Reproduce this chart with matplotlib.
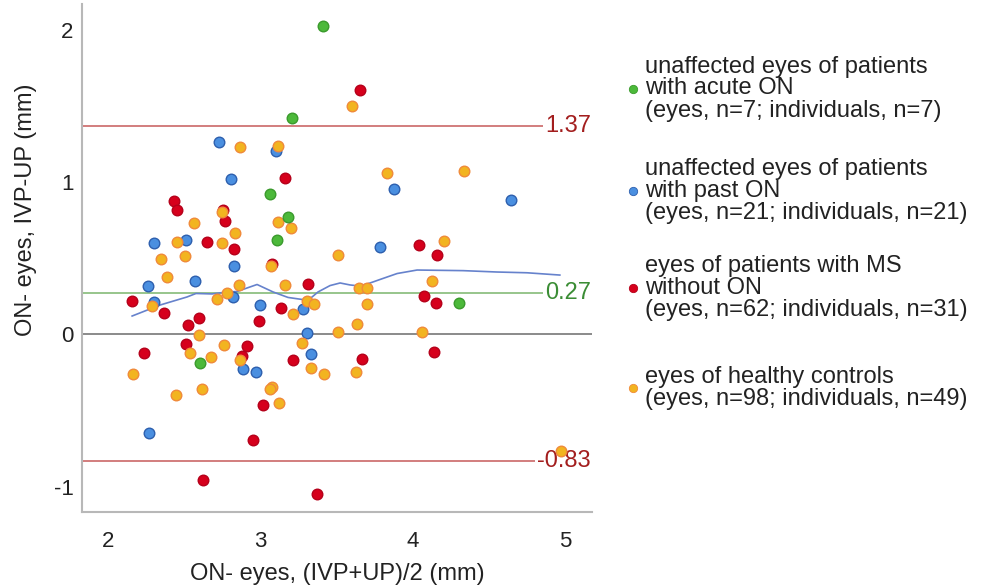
import matplotlib
matplotlib.use("Agg")
import matplotlib.pyplot as plt
from matplotlib.lines import Line2D

plt.rcParams['font.family'] = ['Liberation Sans', 'DejaVu Sans']

# Mean of the two measurements (x) and their difference (y), per group
acute_x = [3.407, 3.207, 3.058, 3.182, 3.108, 4.299, 2.600]
acute_y = [2.022, 1.422, 0.921, 0.770, 0.617, 0.204, -0.190]

past_x = [2.726, 3.098, 2.805, 3.875, 4.640, 2.297, 2.507, 3.785, 2.822, 2.257,
          2.571, 2.301, 2.818, 2.992, 3.278, 3.304, 3.333, 2.884, 2.971, 2.269]
past_y = [1.261, 1.202, 1.022, 0.952, 0.882, 0.601, 0.622, 0.571, 0.450, 0.320,
          0.351, 0.214, 0.242, 0.191, 0.163, 0.009, -0.128, -0.230, -0.249, -0.650]

ms_x = [3.650, 3.159, 2.433, 2.453, 2.751, 2.768, 2.649, 2.826, 4.041, 4.159,
        3.076, 3.312, 2.156, 2.364, 3.131, 4.073, 4.152, 2.595, 2.523, 2.989,
        2.236, 2.511, 2.907, 2.879, 3.212, 3.667, 4.139, 3.013, 2.948, 2.619, 3.371]
ms_y = [1.602, 1.026, 0.875, 0.815, 0.814, 0.741, 0.606, 0.561, 0.585, 0.522,
        0.464, 0.330, 0.221, 0.141, 0.171, 0.251, 0.207, 0.104, 0.058, 0.086,
        -0.120, -0.067, -0.078, -0.142, -0.170, -0.159, -0.118, -0.466, -0.696, -0.957, -1.051]

hc_x = [3.597, 2.862, 3.114, 3.829, 4.334, 2.746, 2.560, 3.115, 3.196, 2.828,
        2.448, 2.744, 4.204, 2.343, 2.503, 3.504, 3.069, 2.383, 2.858, 3.156,
        4.126, 3.647, 3.699, 2.780, 2.711, 2.289, 3.212, 3.302, 3.348, 3.696,
        3.630, 2.593, 3.504, 4.056, 3.270, 2.760, 2.534, 2.671, 2.867, 3.333,
        3.417, 3.622, 2.164, 2.446, 2.617, 3.074, 3.063, 3.122, 4.968]
hc_y = [1.501, 1.233, 1.236, 1.061, 1.070, 0.801, 0.732, 0.736, 0.701, 0.667,
        0.606, 0.598, 0.613, 0.494, 0.516, 0.521, 0.446, 0.375, 0.322, 0.322,
        0.353, 0.304, 0.304, 0.273, 0.230, 0.186, 0.130, 0.219, 0.202, 0.202,
        0.068, -0.006, 0.015, 0.017, -0.055, -0.069, -0.125, -0.148, -0.169, -0.223,
        -0.259, -0.249, -0.261, -0.400, -0.359, -0.346, -0.362, -0.450, -0.764]

# Smoothed fit through all points
fit_x = [2.156, 2.339, 2.516, 2.575, 2.680, 2.779, 2.844, 2.976, 3.081, 3.179,
         3.297, 3.337, 3.376, 3.455, 3.521, 3.586, 3.652, 3.718, 3.783, 3.895,
         4.026, 4.328, 4.550, 4.747, 4.963]
fit_y = [0.120, 0.192, 0.245, 0.268, 0.265, 0.278, 0.281, 0.327, 0.278, 0.242,
         0.225, 0.245, 0.278, 0.320, 0.337, 0.324, 0.317, 0.337, 0.360, 0.399,
         0.422, 0.418, 0.409, 0.404, 0.389]

# Mean difference and limits of agreement
mean_diff = 0.27
loa_upper = 1.37
loa_lower = -0.83

x_ticks = [2, 3, 4, 5]
y_ticks = [-1, 0, 1, 2]

legend_labels = [
    "unaffected eyes of patients\nwith acute ON\n(eyes, n=7; individuals, n=7)",
    "unaffected eyes of patients\nwith past ON\n(eyes, n=21; individuals, n=21)",
    "eyes of patients with MS\nwithout ON\n(eyes, n=62; individuals, n=31)",
    "eyes of healthy controls\n(eyes, n=98; individuals, n=49)",
]

col_green, edge_green = '#4cb93a', '#3a9a2c'
col_blue, edge_blue = '#4a8fe0', '#2d5fae'
col_red, edge_red = '#d6001c', '#b5001a'
col_orange, edge_orange = '#f2b420', '#f08a3a'

fig = plt.figure(figsize=(9.81, 5.88), dpi=100)
ax = fig.add_axes([82/981, 76/588, 510/981, 508/588])

xmin, xmax = 1.827, 5.174
ax.set_xlim(xmin, xmax)
ax.set_ylim(-1.167, 2.169)

# reference lines
ax.axhline(0, color='#8a8a8a', lw=1.4, zorder=1)
ax.axhline(loa_upper, color='#c65a5a', lw=1.1, zorder=1)
ax.axhline(loa_lower, color='#c65a5a', lw=1.1, zorder=1)
ax.axhline(mean_diff, color='#7ab56c', lw=1.1, zorder=1)

lab_x = 5.167
bb = dict(facecolor='white', edgecolor='none', pad=1.5)
ax.text(lab_x, loa_upper, f"{loa_upper:.2f}", color='#a31e1e', fontsize=17,
        ha='right', va='center', bbox=bb, zorder=3)
ax.text(lab_x, mean_diff, f"{mean_diff:.2f}", color='#3b8d35', fontsize=17,
        ha='right', va='center', bbox=bb, zorder=3)
ax.text(lab_x, loa_lower, f"{loa_lower:.2f}", color='#a31e1e', fontsize=17,
        ha='right', va='center', bbox=bb, zorder=3)

ax.plot(fit_x, fit_y, color='#6682cc', lw=1.2, zorder=2)

ms = 58
ax.scatter(past_x, past_y, s=ms, c=col_blue, edgecolors=edge_blue, linewidths=1.0, zorder=4)
ax.scatter(ms_x, ms_y, s=ms, c=col_red, edgecolors=edge_red, linewidths=1.0, zorder=5)
ax.scatter(hc_x, hc_y, s=ms, c=col_orange, edgecolors=edge_orange, linewidths=1.0, zorder=6)
ax.scatter(acute_x, acute_y, s=ms, c=col_green, edgecolors=edge_green, linewidths=1.0, zorder=7)

for s in ['top', 'right']:
    ax.spines[s].set_visible(False)
for s in ['left', 'bottom']:
    ax.spines[s].set_color('#b8b8b8')
    ax.spines[s].set_linewidth(1.5)

ax.set_xticks(x_ticks)
ax.set_yticks(y_ticks)
ax.set_yticklabels([str(t) for t in y_ticks])
ax.tick_params(axis='both', length=0, labelsize=16, colors='#222222')
ax.tick_params(axis='x', pad=14)
ax.tick_params(axis='y', pad=6)

ax.set_xlabel("ON- eyes, (IVP+UP)/2 (mm)", fontsize=17, color='#222222')
ax.xaxis.set_label_coords(0.5, -0.100)
ax.set_ylabel("ON- eyes, IVP-UP (mm)", fontsize=17, color='#222222')
ax.yaxis.set_label_coords(-0.088, 0.594)

# legend, drawn as text blocks with a small marker each
legend_cols = [(col_green, edge_green), (col_blue, edge_blue),
               (col_red, edge_red), (col_orange, edge_orange)]
centers_px = [88.5, 191, 288, 387.5]
for (fc, ec), label, cy in zip(legend_cols, legend_labels, centers_px):
    yf = 1 - cy / 588
    fig.add_artist(Line2D([633/981], [yf], marker='o', markersize=6,
                          markerfacecolor=fc, markeredgecolor=ec, markeredgewidth=0.6,
                          linestyle='none', transform=fig.transFigure))
    fig.text(645/981, yf, label, fontsize=17, ha='left', va='center',
             linespacing=1.0, color='#222222')

fig.savefig("out.png", dpi=100)
